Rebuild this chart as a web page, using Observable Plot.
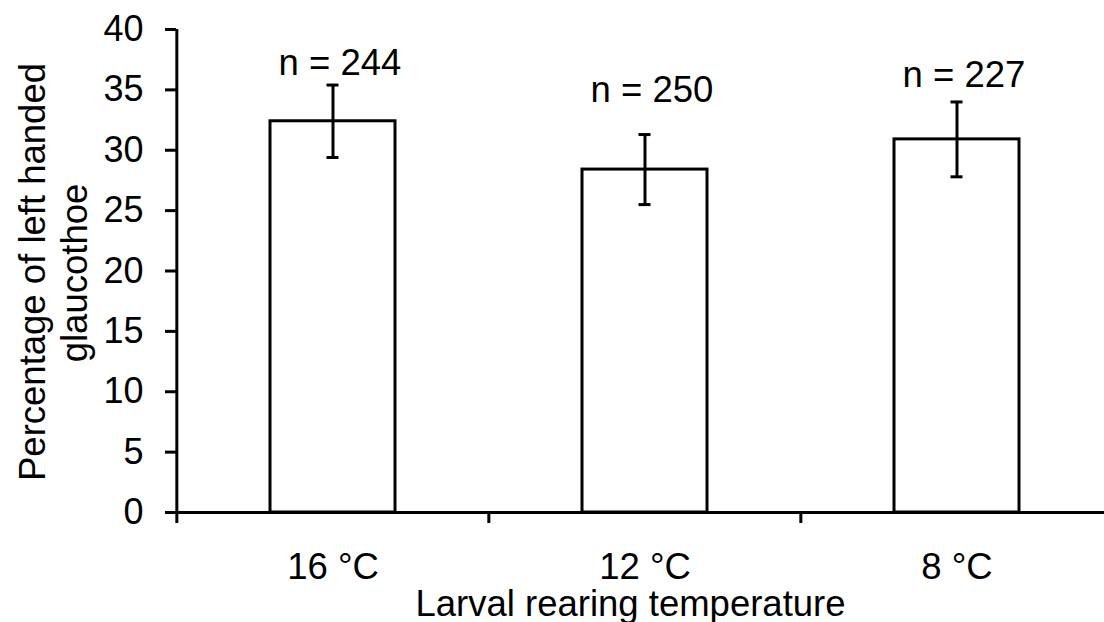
<!DOCTYPE html>
<html>
<head>
<meta charset="utf-8">
<script src="https://cdn.jsdelivr.net/npm/d3@7"></script>
<script src="https://cdn.jsdelivr.net/npm/@observablehq/plot@0.6"></script>
<style>
  html, body { margin: 0; padding: 0; background: #fff; }
  #chart svg { display: block; }
</style>
</head>
<body>
<div id="chart"></div>
<script>
// ---- data ----
const categories = ["16 °C", "12 °C", "8 °C"];
const means = [32.4, 28.4, 30.9];
const errors = [3.0, 2.9, 3.1];
const counts = [244, 250, 227];
// where each "n = …" label sits, in y-axis units (baseline)
const countLabelAt = [36.2, 34.0, 35.25];
const yTicks = [0, 5, 10, 15, 20, 25, 30, 35, 40];
const xTitle = "Larval rearing temperature";
const yTitleLines = ["Percentage of left handed", "glaucothoe"];

const rows = categories.map((c, i) => ({
  temp: c,
  mean: means[i],
  lo: means[i] - errors[i],
  hi: means[i] + errors[i],
  n: counts[i],
  labelY: countLabelAt[i]
}));

// ---- layout ----
const W = 1104, H = 622;
const mL = 176, mT = 29, mB = 110;
const xRange = [176, 1113];
const step = (xRange[1] - xRange[0]) / categories.length;
const font = "'Liberation Sans', Arial, Helvetica, sans-serif";

const chart = Plot.plot({
  width: W,
  height: H,
  marginLeft: mL,
  marginRight: 0,
  marginTop: mT,
  marginBottom: mB,
  style: {fontFamily: font, fontSize: "36.5px", color: "#000", background: "#fff", overflow: "visible"},
  x: {type: "band", domain: categories, range: xRange, paddingInner: 0.6, paddingOuter: 0.3, label: null},
  y: {domain: [0, 40], label: null},
  marks: [
    // bars
    Plot.barY(rows, {x: "temp", y: "mean", fill: "#fff", stroke: "#000", strokeWidth: 3}),
    // error bars
    Plot.ruleX(rows, {x: "temp", y1: "lo", y2: "hi", stroke: "#000", strokeWidth: 3}),
    Plot.tickY(rows, {x: "temp", y: "hi", stroke: "#000", strokeWidth: 3, insetLeft: 56.5, insetRight: 56.5}),
    Plot.tickY(rows, {x: "temp", y: "lo", stroke: "#000", strokeWidth: 3, insetLeft: 56.5, insetRight: 56.5}),
    // n labels
    Plot.text(rows, {x: "temp", y: "labelY", text: d => "n = " + d.n, dx: 7, lineAnchor: "bottom", fontSize: 36.5, fill: "#000"}),
    // y axis
    Plot.axisY({ticks: yTicks, tickFormat: d => String(d), tickSize: 11, tickPadding: 22, strokeWidth: 3, fontSize: 36, label: null}),
    Plot.ruleX([categories[0]], {x: d => d, y1: 0, y2: 40, dx: -step / 2, stroke: "#000", strokeWidth: 3}),
    // x axis: ticks at category boundaries, labels at centers
    Plot.axisX({tickSize: 11, strokeWidth: 3, dx: -step / 2, tickFormat: () => "", label: null}),
    Plot.axisX({tickSize: 0, tickPadding: 41, fontSize: 36.5, label: null}),
    Plot.ruleY([0], {stroke: "#000", strokeWidth: 3}),
    // titles
    Plot.text([xTitle], {frameAnchor: "bottom", text: d => d, textAnchor: "middle", dx: -10, dy: 103, lineAnchor: "bottom", fontSize: 36.5, fill: "#000"}),
    Plot.text([yTitleLines[0]], {frameAnchor: "left", text: d => d, textAnchor: "middle", rotate: -90, dx: -132, dy: 1, lineAnchor: "bottom", fontSize: 36.5, fill: "#000"}),
    Plot.text([yTitleLines[1]], {frameAnchor: "left", text: d => d, textAnchor: "middle", rotate: -90, dx: -90, dy: 2, lineAnchor: "bottom", fontSize: 36.5, fill: "#000"})
  ]
});
document.getElementById("chart").appendChild(chart);
</script>
</body>
</html>
